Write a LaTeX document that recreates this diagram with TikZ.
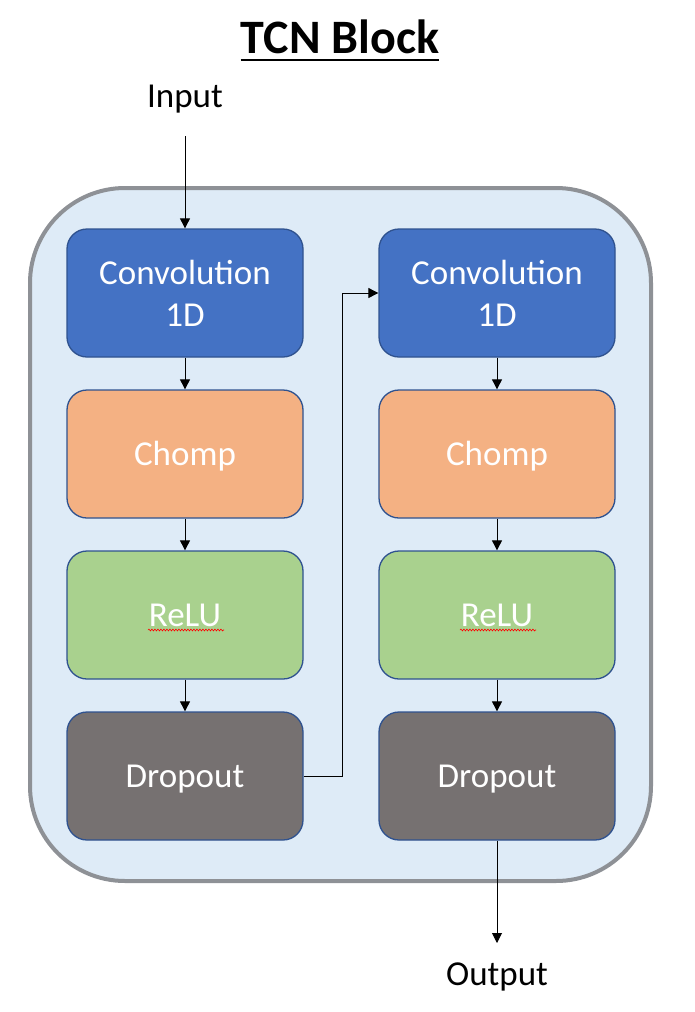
\documentclass[tikz,border=0pt]{standalone}
\usepackage{fontspec}
\setmainfont{Carlito}
\usetikzlibrary{arrows.meta,decorations.pathmorphing}
\definecolor{convblue}{HTML}{4472C4}
\definecolor{boxedge}{HTML}{2F528F}
\definecolor{chompc}{HTML}{F4B183}
\definecolor{reluc}{HTML}{A9D18E}
\definecolor{dropc}{HTML}{767171}
\definecolor{outerfill}{HTML}{DEEBF7}
\definecolor{outeredge}{HTML}{8E9196}
\tikzset{
  blk/.style={draw=boxedge, line width=1.3pt, rounded corners=20pt,
    minimum width=236pt, minimum height=128pt, inner sep=0pt,
    text=white, align=center, font=\fontsize{35}{42}\selectfont},
  conv/.style={blk, fill=convblue},
  single/.style={blk, text height=31pt, text depth=8pt},
  chompbox/.style={single, fill=chompc},
  relubox/.style={single, fill=reluc},
  dropbox/.style={single, fill=dropc},
  lab/.style={inner sep=0pt, font=\fontsize{35}{42}\selectfont, anchor=base},
  flow/.style={-{Triangle[length=10pt,width=10pt]}, line width=0.9pt, black},
  spell/.style={red, line width=0.6pt, decorate,
    decoration={snake, amplitude=0.9pt, segment length=3pt}}
}
\begin{document}
\begin{tikzpicture}[x=1pt,y=-1pt]
\useasboundingbox (0,0) rectangle (694,1012);
% outer container
\draw[fill=outerfill, draw=outeredge, line width=4pt, rounded corners=95pt]
  (30,188) rectangle (651,881);
% title
\node[inner sep=0pt, anchor=base, font=\fontsize{48}{52}\selectfont\bfseries] (title) at (340,53) {TCN Block};
\draw[line width=2.5pt] ([yshift=-7pt]title.base west) -- ([yshift=-7pt]title.base east);
% labels
\node[lab] (inp) at (185,107) {Input};
\node[lab] (outp) at (497,985) {Output};
\coordinate (inStart) at (185,136);
\coordinate (outEnd) at (497,943);
% left column
\node[conv] (conv1) at (185,293) {Convolution\\1D};
\node[chompbox] (chomp1) at (185,454) {Chomp};
\node[relubox] (relu1) at (185,615) {ReLU};
\node[dropbox] (drop1) at (185,776) {Dropout};
% right column
\node[conv] (conv2) at (497,293) {Convolution\\1D};
\node[chompbox] (chomp2) at (497,454) {Chomp};
\node[relubox] (relu2) at (497,615) {ReLU};
\node[dropbox] (drop2) at (497,776) {Dropout};
% spell-check underlines
\draw[spell] (148,630) -- (224,630);
\draw[spell] (460,630) -- (536,630);
% connectors
\draw[flow] (inStart) -- (conv1.north);
\draw[flow] (conv1) -- (chomp1);
\draw[flow] (chomp1) -- (relu1);
\draw[flow] (relu1) -- (drop1);
\draw[flow] (drop1.east) -- ++(39,0) |- (conv2.west);
\draw[flow] (conv2) -- (chomp2);
\draw[flow] (chomp2) -- (relu2);
\draw[flow] (relu2) -- (drop2);
\draw[flow] (drop2.south) -- (outEnd);
\end{tikzpicture}
\end{document}
